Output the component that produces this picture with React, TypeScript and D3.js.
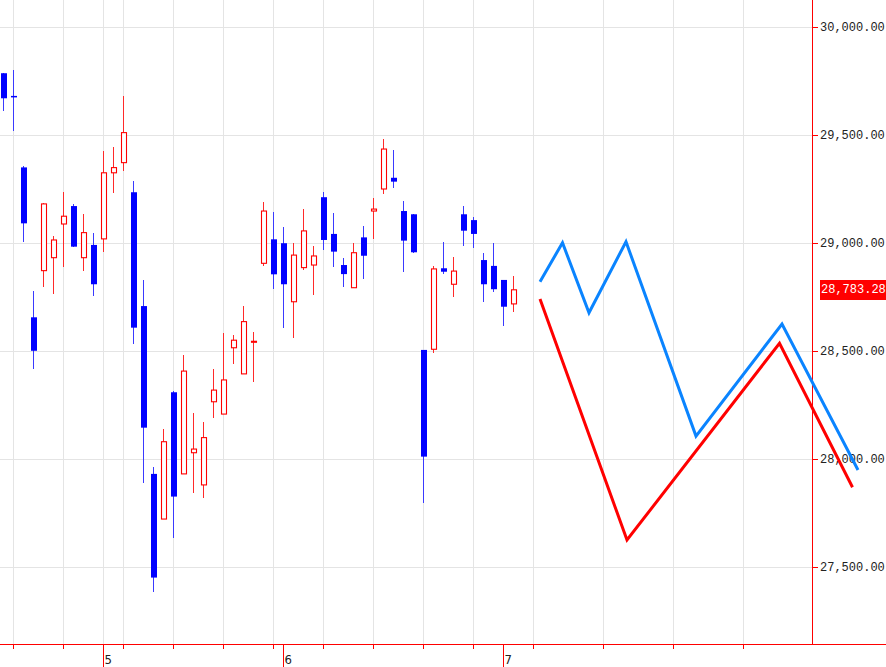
import * as d3 from "d3";
import { useEffect, useRef } from "react";

// daily candles, 2021-04-16 .. 2021-07-02
const dates = [
  "2021-04-16", "2021-04-19", "2021-04-20", "2021-04-21", "2021-04-22", "2021-04-23",
  "2021-04-26", "2021-04-27", "2021-04-28", "2021-04-30",
  "2021-05-06", "2021-05-07", "2021-05-10", "2021-05-11", "2021-05-12", "2021-05-13",
  "2021-05-14", "2021-05-17", "2021-05-18", "2021-05-19", "2021-05-20", "2021-05-21",
  "2021-05-24", "2021-05-25", "2021-05-26", "2021-05-27", "2021-05-28", "2021-05-31",
  "2021-06-01", "2021-06-02", "2021-06-03", "2021-06-04", "2021-06-07", "2021-06-08",
  "2021-06-09", "2021-06-10", "2021-06-11", "2021-06-14", "2021-06-15", "2021-06-16",
  "2021-06-17", "2021-06-18", "2021-06-21", "2021-06-22", "2021-06-23", "2021-06-24",
  "2021-06-25", "2021-06-28", "2021-06-29", "2021-06-30",
  "2021-07-01", "2021-07-02",
];

const opens = [
  29786, 29681, 29350, 28656, 28872, 28932, 29088, 29171, 28932, 28991,
  29019, 29325, 29372, 29235, 28708, 27931, 27722, 28309, 27931, 28029,
  27880, 28265, 28208, 28515, 28394, 28541, 28906, 29017, 28999, 28728,
  28886, 28898, 29212, 29042, 28898, 28793, 29026, 29148, 29250, 29302,
  29148, 29133, 28505, 28508, 28883, 28809, 29133, 29106, 28921, 28894,
  28829, 28718,
];
const highs = [
  29786, 29801, 29356, 28778, 29187, 29032, 29235, 29181, 29136, 29045,
  29426, 29443, 29681, 29287, 28829, 27962, 28139, 28316, 28481, 28214,
  28173, 28415, 28582, 28574, 28708, 28587, 29191, 29145, 29075, 28999,
  29156, 28986, 29235, 29137, 28929, 29001, 29079, 29207, 29480, 29431,
  29194, 29133, 28505, 28894, 29003, 28934, 29173, 29119, 28952, 28999,
  28829, 28847,
];
const lows = [
  29612, 29520, 29006, 28415, 28798, 28763, 28890, 28983, 28872, 28756,
  28958, 29233, 29335, 28531, 27887, 27383, 27722, 27636, 27931, 27844,
  27821, 28191, 28208, 28438, 28394, 28358, 28895, 28786, 28605, 28559,
  28875, 28759, 28968, 28890, 28798, 28793, 28832, 29017, 29227, 29253,
  28867, 28952, 27795, 28489, 28855, 28751, 28987, 28975, 28725, 28775,
  28616, 28682,
];
const closes = [
  29670, 29679, 29091, 28501, 29181, 29014, 29124, 28983, 29048, 28809,
  29325, 29349, 29511, 28608, 28145, 27451, 28080, 27826, 28407, 28046,
  28099, 28319, 28366, 28550, 28636, 28545, 29148, 28855, 28809, 28944,
  29056, 28940, 29014, 28960, 28856, 28955, 28941, 29157, 29435, 29284,
  29011, 28957, 28011, 28880, 28867, 28870, 29057, 29042, 28809, 28786,
  28705, 28783.28,
];

// forecast area: slots continue the candle index, week lines on Jul 5/12/19/26
const forecastWeekSlots = [53, 60, 67, 74];
const blueSlots = [53.65, 55.9, 58.55, 62.25, 69.25, 77.85, 85.45];
const blueValues = [28821, 29001, 28677, 29006, 28106, 28625, 27949];
const redSlots = [53.65, 62.35, 77.6, 84.9];
const redValues = [28741, 27625, 28536, 27869];

const priceTicks = [27500, 28000, 28500, 29000, 29500, 30000];
const lastPrice = 28783.28;

const W = 886;
const H = 667;
const AXIS_X = 812;
const AXIS_Y = 644;

const BLUE = "#0000ff";
const RED = "#ff0000";
const GRID = "#e4e4e4";
const MONO = "'Liberation Mono', 'DejaVu Sans Mono', monospace";

const drawChart = (svgElement: SVGSVGElement) => {
  const svg = d3.select(svgElement);
  svg.selectAll("*").remove();
  svg.attr("width", W).attr("height", H);

  const xScale = d3.scaleLinear().domain([0, 1]).range([3.5, 13.5]);
  const yScale = d3.scaleLinear().domain([27500, 30000]).range([567, 27]);

  svg.append("rect").attr("width", W).attr("height", H).attr("fill", "white");

  const parsed = dates.map((d) => new Date(d + "T00:00:00"));
  const weekStarts: number[] = [];
  const monthStarts: { i: number; label: string }[] = [];
  parsed.forEach((date, i) => {
    if (i === 0) return;
    const prev = parsed[i - 1];
    const dayGap = (date.getTime() - prev.getTime()) / 86400000;
    if (date.getDay() <= prev.getDay() || dayGap >= 7) weekStarts.push(i);
    if (date.getMonth() !== prev.getMonth()) monthStarts.push({ i, label: String(date.getMonth() + 1) });
  });
  const verticalLines = [...weekStarts, ...forecastWeekSlots];

  // grid
  const grid = svg.append("g").attr("shape-rendering", "crispEdges");
  grid
    .selectAll("line.h")
    .data(priceTicks)
    .join("line")
    .attr("x1", 0)
    .attr("x2", AXIS_X)
    .attr("y1", (v) => Math.round(yScale(v)) + 0.5)
    .attr("y2", (v) => Math.round(yScale(v)) + 0.5)
    .attr("stroke", GRID);
  grid
    .selectAll("line.v")
    .data(verticalLines)
    .join("line")
    .attr("x1", (i) => xScale(i))
    .attr("x2", (i) => xScale(i))
    .attr("y1", 0)
    .attr("y2", AXIS_Y)
    .attr("stroke", GRID);

  // candles
  const candles = svg
    .append("g")
    .selectAll("g")
    .data(dates.map((_, i) => i))
    .join("g");

  const isUp = (i: number) => closes[i] >= opens[i];

  candles
    .append("line")
    .attr("x1", (i) => xScale(i))
    .attr("x2", (i) => xScale(i))
    .attr("y1", (i) => yScale(highs[i]))
    .attr("y2", (i) => yScale(lows[i]))
    .attr("stroke", (i) => (isUp(i) ? "#ff2a2a" : "#3a3aff"))
    .attr("stroke-width", 1)
    .attr("shape-rendering", "crispEdges");

  candles
    .filter((i) => !isUp(i))
    .append("rect")
    .attr("x", (i) => xScale(i) - 2.5)
    .attr("width", 6)
    .attr("y", (i) => yScale(opens[i]))
    .attr("height", (i) => Math.max(1.5, yScale(closes[i]) - yScale(opens[i])))
    .attr("fill", BLUE);

  candles
    .filter((i) => isUp(i))
    .append("rect")
    .attr("x", (i) => xScale(i) - 2)
    .attr("width", 5)
    .attr("y", (i) => yScale(closes[i]))
    .attr("height", (i) => Math.max(1, yScale(opens[i]) - yScale(closes[i])))
    .attr("fill", "white")
    .attr("stroke", RED)
    .attr("stroke-width", 1.1);

  // axes
  const axes = svg.append("g").attr("shape-rendering", "crispEdges");
  axes
    .append("line")
    .attr("x1", 0)
    .attr("x2", W)
    .attr("y1", AXIS_Y + 0.5)
    .attr("y2", AXIS_Y + 0.5)
    .attr("stroke", RED);
  axes
    .append("line")
    .attr("x1", AXIS_X + 0.5)
    .attr("x2", AXIS_X + 0.5)
    .attr("y1", 0)
    .attr("y2", AXIS_Y)
    .attr("stroke", RED);

  axes
    .selectAll("line.xt")
    .data(verticalLines)
    .join("line")
    .attr("x1", (i) => xScale(i))
    .attr("x2", (i) => xScale(i))
    .attr("y1", AXIS_Y)
    .attr("y2", AXIS_Y + 5)
    .attr("stroke", RED);

  axes
    .selectAll("line.mt")
    .data(monthStarts)
    .join("line")
    .attr("x1", (m) => xScale(m.i) - 0.5)
    .attr("x2", (m) => xScale(m.i) - 0.5)
    .attr("y1", AXIS_Y)
    .attr("y2", H)
    .attr("stroke", RED);

  svg
    .append("g")
    .selectAll("text")
    .data(monthStarts)
    .join("text")
    .attr("x", (m) => xScale(m.i) + 1)
    .attr("y", 664)
    .attr("font-family", "'Liberation Sans Narrow', 'DejaVu Sans Condensed', sans-serif")
    .attr("font-size", 13)
    .attr("fill", "#222")
    .text((m) => m.label);

  axes
    .selectAll("line.yt")
    .data(priceTicks)
    .join("line")
    .attr("x1", AXIS_X)
    .attr("x2", AXIS_X + 6)
    .attr("y1", (v) => Math.round(yScale(v)) + 0.5)
    .attr("y2", (v) => Math.round(yScale(v)) + 0.5)
    .attr("stroke", RED);

  const fmt = d3.format(",.2f");
  svg
    .append("g")
    .selectAll("text")
    .data(priceTicks)
    .join("text")
    .attr("x", 820)
    .attr("y", (v) => yScale(v) + 1)
    .attr("dominant-baseline", "middle")
    .attr("font-family", MONO)
    .attr("font-size", 12)
    .attr("fill", "#222")
    .text((v) => fmt(v));

  // last price tag
  const lastY = yScale(lastPrice);
  svg
    .append("rect")
    .attr("x", 820)
    .attr("y", Math.round(lastY) - 10)
    .attr("width", W - 820)
    .attr("height", 20)
    .attr("fill", RED);
  svg
    .append("text")
    .attr("x", 821)
    .attr("y", lastY + 0.5)
    .attr("dominant-baseline", "middle")
    .attr("font-family", MONO)
    .attr("font-size", 12)
    .attr("fill", "white")
    .text(fmt(lastPrice));

  // forecast lines
  const line = d3
    .line<[number, number]>()
    .x((d) => xScale(d[0]))
    .y((d) => yScale(d[1]));

  svg
    .append("path")
    .datum(redSlots.map((s, k) => [s, redValues[k]] as [number, number]))
    .attr("d", line)
    .attr("fill", "none")
    .attr("stroke", RED)
    .attr("stroke-width", 3);

  svg
    .append("path")
    .datum(blueSlots.map((s, k) => [s, blueValues[k]] as [number, number]))
    .attr("d", line)
    .attr("fill", "none")
    .attr("stroke", "#0a84ff")
    .attr("stroke-width", 3);
};

const App = () => {
  const svgRef = useRef<SVGSVGElement | null>(null);

  useEffect(() => {
    if (!svgRef.current) return;
    drawChart(svgRef.current);
  }, []);

  return (
    <div style={{ position: "fixed", left: 0, top: 0, width: W, height: H, overflow: "hidden" }}>
      <svg ref={svgRef} style={{ display: "block" }} />
    </div>
  );
};

export default App;
